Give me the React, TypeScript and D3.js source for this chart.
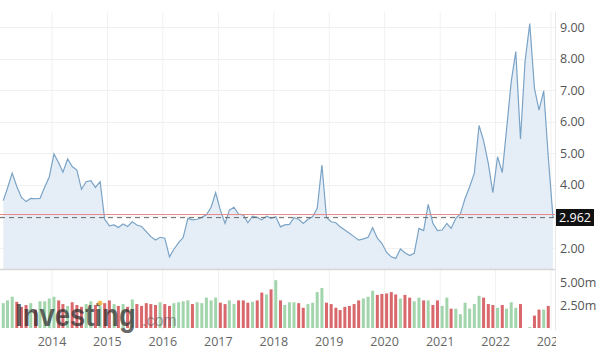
import React from 'react';
import * as d3 from 'd3';

// monthly closes, Feb 2013 .. Jan 2023
const prices = [
  3.50, 3.90, 4.37, 3.95, 3.60, 3.47, 3.57, 3.56, 3.57, 3.93, 4.25,
  4.98, 4.70, 4.40, 4.82, 4.58, 4.47, 3.86, 4.10, 4.13, 3.92, 4.10, 2.91,
  2.70, 2.73, 2.65, 2.76, 2.68, 2.83, 2.73, 2.68, 2.52, 2.36, 2.25, 2.34,
  2.31, 1.72, 1.96, 2.17, 2.33, 2.94, 2.89, 2.91, 2.97, 3.05, 3.29, 3.75,
  3.20, 2.78, 3.20, 3.29, 3.07, 3.05, 2.80, 3.01, 2.97, 2.89, 3.01, 2.94,
  2.99, 2.67, 2.73, 2.75, 2.96, 2.91, 2.78, 2.91, 2.99, 3.26, 4.63, 2.97,
  2.83, 2.80, 2.67, 2.57, 2.47, 2.36, 2.25, 2.29, 2.34, 2.64, 2.31, 2.15,
  1.86, 1.72, 1.67, 1.97, 1.85, 1.76, 1.83, 2.62, 2.55, 3.38, 2.78, 2.55,
  2.57, 2.78, 2.62, 2.94, 3.08, 3.57, 3.94, 4.37, 5.88, 5.40, 4.68, 3.75,
  4.89, 4.39, 5.74, 7.27, 8.22, 5.45, 7.90, 9.11, 7.06, 6.37, 6.98, 4.90,
  2.962,
];

// monthly volume, millions
const volumes = [
  2.7, 3.0, 3.4, 2.85, 2.3, 2.5, 2.7, 2.0, 2.9, 2.9, 3.2,
  3.4, 3.0, 2.6, 2.4, 2.8, 2.5, 2.3, 2.6, 2.9, 2.5, 2.4, 2.7,
  3.0, 2.6, 2.4, 2.6, 2.3, 3.1, 2.6, 2.4, 2.7, 2.6, 2.5, 2.8,
  2.6, 2.4, 2.7, 2.8, 2.9, 3.0, 2.6, 2.8, 2.7, 3.3, 3.0, 3.3,
  2.75, 2.6, 3.0, 2.6, 3.0, 3.0, 2.75, 2.85, 3.0, 3.85, 3.65, 4.2,
  5.2, 3.0, 2.5, 2.8, 2.8, 2.7, 2.2, 2.6, 2.75, 3.9, 4.35, 2.75,
  2.6, 2.2, 1.95, 2.3, 2.4, 2.6, 3.0, 3.2, 3.4, 4.05, 3.6, 3.7,
  3.75, 3.9, 3.65, 3.2, 3.6, 3.3, 2.9, 3.3, 3.0, 3.0, 2.5, 3.0,
  2.4, 3.3, 2.1, 2.1, 1.5, 2.75, 2.1, 2.6, 3.5, 3.3, 2.6, 2.5,
  2.2, 2.5, 2.1, 2.8, 2.2, 2.6, 0, 0.1, 1.35, 2.0, 2.0, 2.4,
  0,
];

const years = [2014, 2015, 2016, 2017, 2018, 2019, 2020, 2021, 2022, 2023];
const priceTicks = [9, 8, 7, 6, 5, 4, 2];
const priceGrid = [2, 3, 4, 5, 6, 7, 8, 9];
const volTicks = [5, 2.5];
const lastPrice = 2.962;
const refPrice = 3.06;

const W = 600;
const H = 354;
const plotRight = 555;
const priceBottom = 269;

const dates = prices.map((_, i) => new Date(2013, 1 + i, 14));

const App = () => {
  const x = d3.scaleTime()
    .domain([new Date(2014, 0, 1), new Date(2023, 0, 1)])
    .range([52, 551]);
  const y = d3.scaleLinear().domain([2, 9]).range([248, 27]);
  const yv = d3.scaleLinear().domain([0, 5]).range([328, 282]);

  const pts = prices.map((p, i) => ({ d: dates[i], p }));
  const line = d3.line<any>().x(d => x(d.d)).y(d => y(d.p));
  const area = d3.area<any>().x(d => x(d.d)).y0(priceBottom).y1(d => y(d.p));

  const font = '"Open Sans", "Noto Sans", sans-serif';

  return (
    <div style={{ position: 'fixed', left: 0, top: 0, width: W, height: H, background: '#fff' }}>
      <svg width={W} height={H} style={{ display: 'block' }}>
        <defs>
          <clipPath id="xlabClip">
            <rect x={0} y={330} width={plotRight + 1} height={24} />
          </clipPath>
        </defs>

        {/* grid */}
        {years.map(yr => (
          <line key={'vg' + yr} x1={x(new Date(yr, 0, 1))} x2={x(new Date(yr, 0, 1))}
            y1={12} y2={330} stroke="#f1f1f1" strokeWidth={1} />
        ))}
        {priceGrid.map(t => (
          <line key={'hg' + t} x1={0} x2={plotRight} y1={Math.round(y(t)) + 0.5} y2={Math.round(y(t)) + 0.5}
            stroke="#f1f1f1" strokeWidth={1} />
        ))}
        <line x1={plotRight + 0.5} x2={plotRight + 0.5} y1={12} y2={330} stroke="#e8e8e8" />

        {/* price area + line */}
        <path d={area(pts) || ''} fill="#e2ecf6" fillOpacity={0.9} />
        <path d={line(pts) || ''} fill="none" stroke="#7aa3c6" strokeWidth={1.2} />
        <line x1={0} x2={plotRight} y1={priceBottom + 0.5} y2={priceBottom + 0.5} stroke="#d6d6d6" strokeWidth={1.5} />

        {/* reference lines */}
        <line x1={0} x2={plotRight} y1={y(refPrice)} y2={y(refPrice)} stroke="#e58a8a" strokeWidth={1} />
        <line x1={0} x2={plotRight} y1={y(lastPrice)} y2={y(lastPrice)} stroke="#666" strokeWidth={1} strokeDasharray="5,4" />

        {/* volume bars */}
        {volumes.map((v, i) => {
          if (v <= 0) return null;
          const up = i === 0 ? true : prices[i] >= prices[i - 1];
          const cx = x(dates[i]);
          return (
            <rect key={'v' + i} x={cx - 1.5} width={3} y={yv(v)} height={yv(0) - yv(v)}
              fill={up ? '#a2d5ac' : '#d8686c'} />
          );
        })}

        {/* watermark */}
        <g fontFamily='"Liberation Sans", Arial, sans-serif'>
          <text transform="translate(15,326) scale(1,1.12)" fontSize={27.5} fontWeight="bold"
            fill="#2e2e2e" fillOpacity={0.72}>Investing</text>
          <text x={142} y={326} fontSize={16} fill="#555" fillOpacity={0.55}>.com</text>
          <circle cx={100} cy={303} r={2.5} fill="#f2b43c" fillOpacity={0.85} />
        </g>

        {/* right axis labels */}
        {priceTicks.map(t => (
          <text key={'pt' + t} x={560} y={y(t) + 4.5} fontSize={12.5} fill="#555" fontFamily={font}>
            {t.toFixed(2)}
          </text>
        ))}
        {volTicks.map(t => (
          <text key={'vt' + t} x={560} y={yv(t) + 4.5} fontSize={12.5} fill="#555" fontFamily={font}>
            {t.toFixed(2) + 'm'}
          </text>
        ))}
        <rect x={556} y={209} width={38} height={17} fill="#111" />
        <text x={575} y={222} fontSize={12.5} fill="#fff" textAnchor="middle" fontFamily={font}>
          {lastPrice.toFixed(3)}
        </text>

        {/* year labels */}
        <g clipPath="url(#xlabClip)">
          {years.map(yr => (
            <text key={'yl' + yr} x={x(new Date(yr, 0, 1))} y={346} fontSize={12.5} fill="#666"
              textAnchor="middle" fontFamily={font}>{yr}</text>
          ))}
        </g>
      </svg>
    </div>
  );
};

export default App;
